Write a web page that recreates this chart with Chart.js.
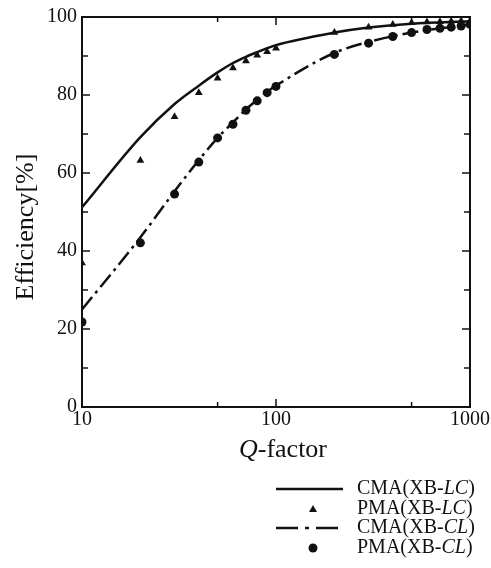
<!DOCTYPE html>
<html>
<head>
<meta charset="utf-8">
<script src="https://cdn.jsdelivr.net/npm/chart.js@4.4.1/dist/chart.umd.min.js"></script>
<style>
  body { margin:0; background:#fff; }
  #wrap { width:491px; height:568px; }
</style>
</head>
<body>
<div id="wrap"><canvas id="chart"></canvas></div>
<script>
// CMA curves
const cmaLcQ = [10, 20, 30, 40, 50, 60, 70, 80, 90, 100, 200, 300, 500, 1000];
const cmaLcEff = [51.2, 69.2, 77.7, 82.4, 85.8, 88.2, 89.8, 91.0, 92.0, 92.8, 96.0, 97.3, 98.3, 98.9];
const cmaClQ = [10, 20, 30, 40, 50, 60, 70, 80, 90, 100, 200, 300, 500, 1000];
const cmaClEff = [25.0, 43.5, 55.3, 63.3, 69.0, 73.0, 76.3, 78.8, 80.8, 82.4, 90.8, 93.6, 96.0, 98.1];

// PMA points
const pmaQ = [10, 20, 30, 40, 50, 60, 70, 80, 90, 100, 200, 300, 400, 500, 600, 700, 800, 900, 1000];
const pmaLcEff = [36.9, 63.2, 74.4, 80.6, 84.3, 86.9, 88.7, 90.2, 91.1, 92.0, 96.0, 97.4, 98.1, 98.5, 98.7, 98.8, 98.9, 99.0, 99.0];
const pmaClEff = [21.8, 42.1, 54.6, 62.8, 69.0, 72.5, 76.1, 78.5, 80.6, 82.2, 90.4, 93.3, 95.0, 96.0, 96.8, 97.1, 97.4, 97.7, 98.1];

const xLabels = [10, 100, 1000];
const yLabels = [0, 20, 40, 60, 80, 100];
const legendNames = [['CMA(XB-', 'LC', ')'], ['PMA(XB-', 'LC', ')'], ['CMA(XB-', 'CL', ')'], ['PMA(XB-', 'CL', ')']];

const serif = '"Liberation Serif", "DejaVu Serif", serif';
const ink = '#111';

function pts(xs, ys) { return xs.map((x, i) => ({x: x, y: ys[i]})); }

const frame = {
  id: 'frame',
  afterDraw(chart) {
    const ctx = chart.ctx, a = chart.chartArea;
    const xs = chart.scales.x, ys = chart.scales.y;
    ctx.save();
    ctx.strokeStyle = ink;
    ctx.lineWidth = 2;
    ctx.strokeRect(a.left, a.top, a.right - a.left, a.bottom - a.top);
    ctx.lineWidth = 1.5;
    ctx.beginPath();
    for (let v = 10; v < 100; v += 10) {
      const y = ys.getPixelForValue(v);
      const len = v % 20 === 0 ? 8 : 6;
      ctx.moveTo(a.left, y); ctx.lineTo(a.left + len, y);
      ctx.moveTo(a.right, y); ctx.lineTo(a.right - len, y);
    }
    [50, 100, 500].forEach(v => {
      const x = xs.getPixelForValue(v);
      const len = v === 100 ? 8 : 5;
      ctx.moveTo(x, a.bottom); ctx.lineTo(x, a.bottom - len);
      ctx.moveTo(x, a.top); ctx.lineTo(x, a.top + len);
    });
    ctx.stroke();

    // axis titles
    ctx.fillStyle = ink;
    ctx.textBaseline = 'alphabetic';
    ctx.font = 'italic 26px ' + serif;
    const qW = ctx.measureText('Q').width;
    ctx.font = '26px ' + serif;
    const restW = ctx.measureText('-factor').width;
    let tx = 283 - (qW + restW) / 2;
    ctx.font = 'italic 26px ' + serif;
    ctx.textAlign = 'left';
    ctx.fillText('Q', tx, 457);
    ctx.font = '26px ' + serif;
    ctx.fillText('-factor', tx + qW, 457);

    ctx.save();
    ctx.translate(33, 227);
    ctx.rotate(-Math.PI / 2);
    ctx.textAlign = 'center';
    ctx.fillText('Efficiency[%]', 0, 0);
    ctx.restore();

    // legend
    const rows = [489, 509, 528, 548];
    chart.data.datasets.forEach((ds, i) => {
      const y = rows[i];
      ctx.save();
      ctx.strokeStyle = ink;
      ctx.fillStyle = ink;
      if (ds.showLine) {
        ctx.lineWidth = ds.borderWidth;
        ctx.setLineDash(i === 2 ? [22, 7, 4, 7] : []);
        ctx.beginPath();
        ctx.moveTo(276, y); ctx.lineTo(343, y);
        ctx.stroke();
      } else if (ds.pointStyle === 'triangle') {
        ctx.beginPath();
        ctx.moveTo(313, y - 4); ctx.lineTo(317, y + 3); ctx.lineTo(309, y + 3);
        ctx.closePath(); ctx.fill();
      } else {
        ctx.beginPath();
        ctx.arc(313, y, 4.5, 0, Math.PI * 2);
        ctx.fill();
      }
      ctx.restore();
      const parts = legendNames[i];
      let lx = 357;
      ctx.textAlign = 'left';
      ctx.textBaseline = 'middle';
      parts.forEach((p, k) => {
        ctx.font = (k === 1 ? 'italic ' : '') + '20px ' + serif;
        ctx.fillText(p, lx, y);
        lx += ctx.measureText(p).width;
      });
    });
    ctx.restore();
  }
};

new Chart(document.getElementById('chart'), {
  type: 'scatter',
  data: {
    datasets: [
      {
        label: 'CMA(XB-LC)',
        data: pts(cmaLcQ, cmaLcEff),
        showLine: true,
        borderColor: ink,
        borderWidth: 2.5,
        pointRadius: 0,
        cubicInterpolationMode: 'monotone'
      },
      {
        label: 'PMA(XB-LC)',
        data: pts(pmaQ, pmaLcEff),
        showLine: false,
        pointStyle: 'triangle',
        pointRadius: 4.5,
        backgroundColor: ink,
        borderColor: ink,
        borderWidth: 0
      },
      {
        label: 'CMA(XB-CL)',
        data: pts(cmaClQ, cmaClEff),
        showLine: true,
        borderColor: ink,
        borderWidth: 2.5,
        borderDash: [16, 5, 3, 5],
        pointRadius: 0,
        cubicInterpolationMode: 'monotone'
      },
      {
        label: 'PMA(XB-CL)',
        data: pts(pmaQ, pmaClEff),
        showLine: false,
        pointStyle: 'circle',
        pointRadius: 4.5,
        backgroundColor: ink,
        borderColor: ink,
        borderWidth: 0
      }
    ]
  },
  options: {
    responsive: true,
    maintainAspectRatio: false,
    animation: false,
    layout: { padding: { top: 16, right: 0, left: 0, bottom: 0 } },
    plugins: { legend: { display: false }, tooltip: { enabled: false } },
    scales: {
      x: {
        type: 'logarithmic',
        min: 10,
        max: 1000,
        grid: { display: false, drawTicks: false },
        border: { display: false },
        afterFit: s => { s.height = 161; },
        ticks: {
          autoSkip: false,
          maxRotation: 0,
          padding: 1,
          color: ink,
          font: { family: serif, size: 20 },
          callback: v => xLabels.includes(v) ? String(v) : ''
        }
      },
      y: {
        min: 0,
        max: 100,
        grid: { display: false, drawTicks: false },
        border: { display: false },
        afterFit: s => { s.width = 82; },
        ticks: {
          stepSize: 20,
          padding: 5,
          color: ink,
          font: { family: serif, size: 20 },
          callback: v => yLabels.includes(v) ? String(v) : ''
        }
      }
    }
  },
  plugins: [frame]
});
</script>
</body>
</html>
